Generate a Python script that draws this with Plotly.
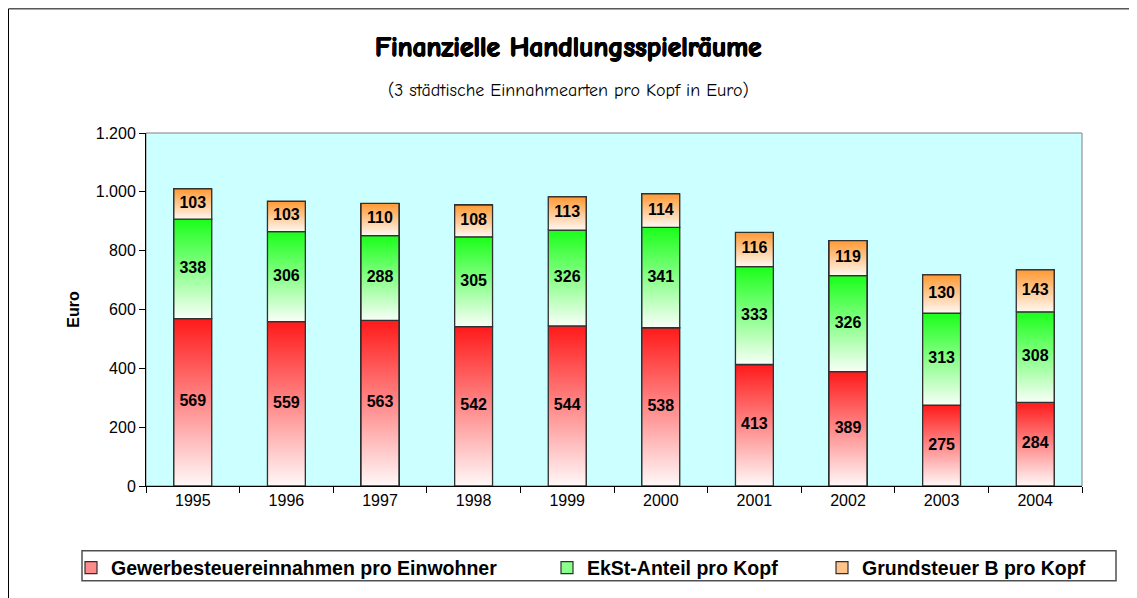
import plotly.graph_objects as go

years = ["1995", "1996", "1997", "1998", "1999", "2000", "2001", "2002", "2003", "2004"]
gewerbe = [569, 559, 563, 542, 544, 538, 413, 389, 275, 284]
ekst = [338, 306, 288, 305, 326, 341, 333, 326, 313, 308]
grund = [103, 103, 110, 108, 113, 114, 116, 119, 130, 143]

series_names = ["Gewerbesteuereinnahmen pro Einwohner", "EkSt-Anteil pro Kopf", "Grundsteuer B pro Kopf"]
series_vals = [gewerbe, ekst, grund]
top_colors = ["#ff1a1a", "#1aff1a", "#ff9933"]
bottom_colors = ["#fff8f8", "#f8fff8", "#fff8f2"]
legend_colors = ["#ff8a8a", "#8aff8a", "#ffc48a"]
legends = ["legend", "legend2", "legend3"]

# figure pixel geometry (page is offset by the 8px body margin)
W, H = 1122, 590
L, T = 138, 125
PW, PH = 936, 354
R, B = W - L - PW, H - T - PH

def px_x(p):
    return (p - L) / PW

def px_y(p):
    return (T + PH - p) / PH

ARIAL = "Arial, Liberation Sans, sans-serif"
COMIC = "Comic Sans MS, Comic Neue, Noto Sans, sans-serif"

bw = 0.405
xs = list(range(len(years)))
fig = go.Figure()

# real stacked bars (carry data + legend entries)
for s, (name, vals) in enumerate(zip(series_names, series_vals)):
    fig.add_trace(go.Bar(
        x=xs, y=vals, width=bw, name=name, legend=legends[s],
        marker=dict(color=legend_colors[s], line=dict(color="#303030", width=1.2)),
        hoverinfo="skip",
    ))

# gradient overlays for each segment
base = [0] * len(years)
tx, ty, tt = [], [], []
for s, vals in enumerate(series_vals):
    for i, v in enumerate(vals):
        b0, b1 = base[i], base[i] + v
        fig.add_trace(go.Scatter(
            x=[i - bw / 2, i + bw / 2, i + bw / 2, i - bw / 2, i - bw / 2],
            y=[b0, b0, b1, b1, b0],
            mode="lines", fill="toself",
            fillgradient=dict(type="vertical",
                              colorscale=[[0, bottom_colors[s]], [1, top_colors[s]]]),
            line=dict(color="#303030", width=1.3),
            showlegend=False, hoverinfo="skip",
        ))
        tx.append(i)
        ty.append(b0 + v / 2)
        tt.append(str(v))
    base = [b + v for b, v in zip(base, vals)]

fig.add_trace(go.Scatter(
    x=tx, y=ty, text=tt, mode="text",
    textfont=dict(family=ARIAL, size=16, color="black", weight="bold"),
    showlegend=False, hoverinfo="skip",
))

legend_common = dict(
    orientation="h", yanchor="middle", xanchor="left",
    bgcolor="rgba(0,0,0,0)", borderwidth=0,
    font=dict(family=ARIAL, size=19.5, color="black", weight="bold"),
    itemwidth=30, y=px_y(560),
)

fig.update_layout(
    width=W, height=H,
    margin=dict(l=L, r=R, t=T, b=B),
    paper_bgcolor="white",
    plot_bgcolor="#ccffff",
    separators=",.",
    barmode="stack",
    showlegend=True,
    legend=dict(legend_common, x=px_x(63)),
    legend2=dict(legend_common, x=px_x(539)),
    legend3=dict(legend_common, x=px_x(814)),
    xaxis=dict(
        range=[-0.5, len(years) - 0.5],
        tickvals=xs, ticktext=years,
        ticks="", showgrid=False, zeroline=False,
        showline=True, linecolor="black", linewidth=1,
        tickfont=dict(family=ARIAL, size=16, color="black"),
        minor=dict(tickvals=[i - 0.5 for i in range(len(years) + 1)],
                   ticks="outside", ticklen=6, tickcolor="black"),
    ),
    yaxis=dict(
        range=[0, 1200], dtick=200, tickformat=",d",
        ticks="outside", ticklen=6, tickcolor="black",
        showgrid=False, zeroline=False,
        showline=True, linecolor="black", linewidth=1,
        tickfont=dict(family=ARIAL, size=16, color="black"),
        title=dict(text="Euro", font=dict(family=ARIAL, size=16, color="black", weight="bold"),
                   standoff=12),
    ),
    annotations=[
        dict(text="<b>Finanzielle Handlungsspielräume</b>", xref="paper", yref="paper",
             x=px_x(560), y=px_y(39), xanchor="center", yanchor="middle", showarrow=False,
             font=dict(family=COMIC, size=27.5, color="black", weight="bold",
                       shadow="0.7px 0 0 black, -0.7px 0 0 black, 0 0.5px 0 black, 0 -0.5px 0 black")),
        dict(text="(3 städtische Einnahmearten pro Kopf in Euro)", xref="paper", yref="paper",
             x=px_x(560), y=px_y(82), xanchor="center", yanchor="middle", showarrow=False,
             font=dict(family=COMIC, size=18, color="black")),
    ],
    shapes=[
        dict(type="rect", xref="paper", yref="paper", x0=0, x1=1, y0=0, y1=1,
             line=dict(color="#808080", width=1), layer="below"),
        dict(type="rect", xref="paper", yref="paper",
             x0=px_x(74), x1=px_x(1108), y0=px_y(544), y1=px_y(574),
             line=dict(color="#505050", width=1.5)),
        dict(type="rect", xref="paper", yref="paper",
             x0=px_x(0.5), x1=px_x(W - 0.5), y0=px_y(0.5), y1=px_y(H + 10),
             line=dict(color="black", width=1)),
    ],
)

fig.write_html("out.html")
